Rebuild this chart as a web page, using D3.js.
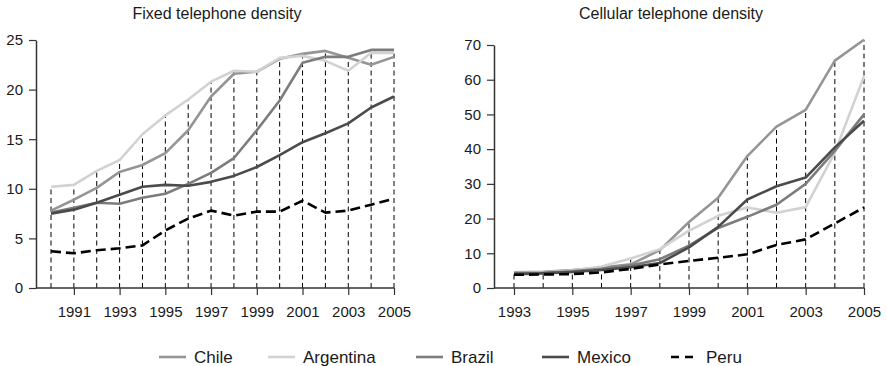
<!DOCTYPE html>
<html>
<head>
<meta charset="utf-8">
<script src="https://cdn.jsdelivr.net/npm/d3@7"></script>
<style>
  html, body { margin: 0; padding: 0; background: #fff; }
  svg { display: block; font-family: "Liberation Sans", Arial, Helvetica, sans-serif; }
</style>
</head>
<body>
<svg id="chart" width="887" height="366"></svg>
<script>
// ---------- DATA ----------
const seriesNames = ["Chile", "Argentina", "Brazil", "Mexico", "Peru"];

const fixedYears = [1990,1991,1992,1993,1994,1995,1996,1997,1998,1999,2000,2001,2002,2003,2004,2005];
const fixedChile     = [7.8, 8.9, 10.1, 11.7, 12.4, 13.6, 15.9, 19.3, 21.6, 21.8, 23.1, 23.6, 23.9, 23.2, 22.5, 23.3];
const fixedArgentina = [10.2, 10.4, 11.8, 12.9, 15.5, 17.4, 19.0, 20.8, 21.9, 21.8, 23.2, 23.4, 22.9, 21.9, 23.7, 23.7];
const fixedBrazil    = [7.6, 8.1, 8.6, 8.5, 9.1, 9.5, 10.5, 11.6, 13.1, 15.9, 18.9, 22.7, 23.3, 23.3, 24.0, 24.0];
const fixedMexico    = [7.5, 7.9, 8.6, 9.4, 10.2, 10.4, 10.3, 10.7, 11.3, 12.2, 13.4, 14.7, 15.6, 16.6, 18.2, 19.3];
const fixedPeru      = [3.7, 3.5, 3.8, 4.0, 4.3, 5.8, 7.0, 7.8, 7.3, 7.7, 7.7, 8.8, 7.6, 7.8, 8.4, 9.0];
const fixedTicksY = [0, 5, 10, 15, 20, 25];
const fixedTicksX = [1991, 1993, 1995, 1997, 1999, 2001, 2003, 2005];

const cellYears = [1993,1994,1995,1996,1997,1998,1999,2000,2001,2002,2003,2004,2005];
const cellChile     = [4.5, 4.7, 5.2, 5.9, 6.8, 10.9, 19.0, 26.0, 38.0, 46.5, 51.3, 65.5, 71.5];
const cellArgentina = [4.3, 4.5, 5.0, 6.2, 8.5, 11.2, 16.5, 20.8, 23.2, 21.7, 23.3, 39.0, 61.0];
const cellBrazil    = [4.2, 4.4, 4.8, 5.5, 6.5, 8.3, 12.2, 17.3, 20.5, 24.0, 30.0, 39.5, 50.0];
const cellMexico    = [4.0, 4.2, 4.6, 5.2, 6.0, 7.2, 11.7, 17.6, 25.5, 29.3, 31.8, 40.5, 48.2];
const cellPeru      = [3.8, 3.9, 4.0, 4.5, 5.5, 6.8, 7.8, 8.7, 9.7, 12.4, 14.0, 18.6, 23.2];
const cellTicksY = [0, 10, 20, 30, 40, 50, 60, 70];
const cellTicksX = [1993, 1995, 1997, 1999, 2001, 2003, 2005];

const titles = ["Fixed telephone density", "Cellular telephone density"];

// ---------- STYLE ----------
const colors = { Chile: "#959595", Argentina: "#d2d2d2", Brazil: "#7c7c7c", Mexico: "#4b4b4b", Peru: "#000000" };
const dashes = { Peru: "10,5" };
const textColor = "#1a1a1a";
const axisColor = "#333";

const svg = d3.select("#chart");

function drawPanel(cfg) {
  const g = svg.append("g");
  const x = d3.scaleLinear().domain(cfg.xDomain).range(cfg.xRange);
  const y = d3.scaleLinear().domain(cfg.yDomain).range(cfg.yRange);

  const series = seriesNames.map((n, i) => ({ name: n, values: cfg.values[i] }));

  // drop lines
  g.append("g").selectAll("line").data(cfg.years).join("line")
    .attr("x1", d => x(d)).attr("x2", d => x(d))
    .attr("y1", y(0))
    .attr("y2", (d, i) => y(d3.max(series, s => s.values[i])))
    .attr("stroke", "#000").attr("stroke-width", 1)
    .attr("stroke-dasharray", "5,3.5");

  // y axis
  const ya = g.append("g").attr("transform", `translate(${cfg.axisX},0)`)
    .call(d3.axisLeft(y).tickValues(cfg.ticksY).tickSize(7).tickPadding(6).tickSizeOuter(0));
  ya.select(".domain").attr("stroke", axisColor).attr("stroke-width", 1.5);
  ya.selectAll(".tick line").attr("stroke", axisColor).attr("stroke-width", 1.2);
  ya.selectAll("text").attr("font-size", 15).attr("fill", textColor)
    .attr("font-family", "Liberation Sans, Arial, sans-serif");

  // x axis
  const xa = g.append("g").attr("transform", `translate(0,${y(0)})`)
    .call(d3.axisBottom(x).tickValues(cfg.ticksX).tickFormat(d3.format("d")).tickSize(7).tickPadding(11));
  xa.select(".domain").remove();
  xa.selectAll(".tick line").attr("stroke", axisColor).attr("stroke-width", 1.2);
  xa.selectAll("text").attr("font-size", 15).attr("fill", textColor)
    .attr("font-family", "Liberation Sans, Arial, sans-serif");
  g.append("line")
    .attr("x1", cfg.axisX).attr("x2", cfg.xRange[1])
    .attr("y1", y(0)).attr("y2", y(0))
    .attr("stroke", axisColor).attr("stroke-width", 1.5);

  // lines
  const line = d3.line().x((d, i) => x(cfg.years[i])).y(d => y(d));
  g.append("g").selectAll("path").data(series).join("path")
    .attr("d", s => line(s.values))
    .attr("fill", "none")
    .attr("stroke", s => colors[s.name])
    .attr("stroke-width", 2.6)
    .attr("stroke-linejoin", "round")
    .attr("stroke-dasharray", s => dashes[s.name] || null);

  // title
  g.append("text").attr("x", cfg.titleX).attr("y", 19)
    .attr("text-anchor", "middle").attr("font-size", 16).attr("fill", textColor)
    .text(cfg.title);
}

drawPanel({
  years: fixedYears,
  values: [fixedChile, fixedArgentina, fixedBrazil, fixedMexico, fixedPeru],
  xDomain: [1990, 2005], xRange: [51, 394],
  yDomain: [0, 25], yRange: [288, 40],
  axisX: 36, ticksY: fixedTicksY, ticksX: fixedTicksX,
  title: titles[0], titleX: 217
});

drawPanel({
  years: cellYears,
  values: [cellChile, cellArgentina, cellBrazil, cellMexico, cellPeru],
  xDomain: [1993, 2005], xRange: [514, 864],
  yDomain: [0, 70], yRange: [288, 45],
  axisX: 494, ticksY: cellTicksY, ticksX: cellTicksX,
  title: titles[1], titleX: 671
});

// legend
const legendX = [159, 268, 416, 542, 671];
const legendY = 357;
const lg = svg.append("g");
seriesNames.forEach((n, i) => {
  lg.append("line")
    .attr("x1", legendX[i]).attr("x2", legendX[i] + 27)
    .attr("y1", legendY).attr("y2", legendY)
    .attr("stroke", colors[n]).attr("stroke-width", 2.6)
    .attr("stroke-dasharray", n === "Peru" ? "8,6" : null);
  lg.append("text")
    .attr("x", legendX[i] + 35).attr("y", legendY + 6)
    .attr("font-size", 17).attr("fill", textColor)
    .text(n);
});
</script>
</body>
</html>
